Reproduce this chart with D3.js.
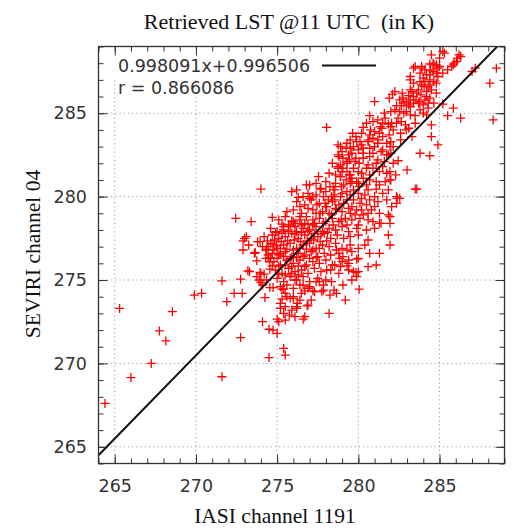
<!DOCTYPE html>
<html>
<head>
<meta charset="utf-8">
<script src="https://cdn.jsdelivr.net/npm/d3@7"></script>
<style>
  html, body { margin: 0; padding: 0; background: #fff; }
  svg { display: block; }
</style>
</head>
<body>
<svg id="chart" width="514" height="531"></svg>
<script>
// [IASI channel 1191, SEVIRI channel 04] in K
const outliers = [
    [272.9, 276.8], [273.6, 276.6], [273.75, 276.15], [274.3, 276.3], [273.3, 275.5], [274.0, 275.35],
    [273.75, 275.2], [273.9, 275.0], [271.6, 274.95], [272.75, 275.05], [274.1, 274.7], [269.9, 274.1],
    [270.35, 274.2], [272.35, 274.2], [272.85, 274.2], [271.9, 273.7], [274.25, 273.95], [265.3, 273.3],
    [268.55, 273.1], [274.1, 272.5], [274.5, 272.05], [267.75, 271.95], [268.15, 271.35], [272.75, 271.55],
    [274.5, 270.35], [267.25, 270.0], [266.0, 269.15], [271.6, 269.2], [264.4, 267.6], [274.0, 280.45],
    [272.45, 278.7], [273.4, 278.5], [274.7, 278.75], [275.9, 278.55], [276.4, 278.8], [273.0, 277.5],
]
const lowerBand = [
    [278.2, 273.0], [276.6, 272.65], [275.4, 273.0], [275.75, 272.9], [275.0, 272.65], [274.75, 272.0],
    [275.0, 271.8], [275.4, 270.9], [275.5, 270.5], [276.85, 273.45], [276.25, 273.6], [275.2, 273.3],
    [276.2, 273.3], [276.0, 273.9], [275.3, 273.85], [275.6, 274.0], [276.7, 274.35], [277.2, 274.35],
    [277.85, 274.4], [278.5, 274.4], [280.05, 274.45], [279.85, 275.45], [279.3, 275.85], [279.9, 276.25],
    [278.85, 276.3], [278.55, 275.9], [278.05, 275.6], [277.6, 274.9], [273.1, 277.6], [272.9, 277.35],
    [273.25, 277.1], [273.8, 277.3], [273.95, 277.3], [273.65, 276.65], [274.45, 277.0], [274.45, 276.5],
    [274.55, 276.1], [274.95, 277.05], [275.2, 276.6], [273.2, 275.55], [273.95, 275.45], [274.2, 275.35],
    [274.55, 275.65], [274.35, 275.0], [274.0, 274.85], [274.55, 274.55], [274.75, 274.55], [275.3, 274.45],
    [275.4, 274.45], [274.3, 276.8], [274.45, 276.3], [274.75, 277.15], [275.2, 273.6], [275.5, 273.4],
    [275.8, 273.9], [275.9, 273.2], [276.2, 273.4], [276.4, 273.8], [276.9, 273.5], [277.1, 273.8],
    [277.3, 274.3], [277.75, 274.3], [278.25, 274.1], [278.65, 274.2], [279.2, 273.8], [276.7, 272.8],
    [276.1, 272.8], [275.5, 272.6], [275.1, 272.5], [276.1, 275.0], [276.6, 274.7], [277.0, 274.6],
    [277.4, 274.9], [277.85, 274.7], [278.35, 274.9], [279.05, 274.7], [279.6, 275.0], [279.4, 275.6],
    [279.7, 275.5], [279.4, 276.2], [280.0, 276.3], [278.9, 275.8], [278.65, 276.8], [279.3, 276.8],
]
const rightBand = [
    [283.6, 280.45], [283.0, 281.6], [282.45, 282.15], [282.0, 281.0], [281.75, 281.4], [282.55, 279.9],
    [282.35, 279.6], [281.95, 278.8], [281.85, 277.7], [281.95, 277.1], [281.3, 278.4], [281.3, 276.6],
    [280.7, 276.6], [280.4, 277.1], [281.1, 275.9], [280.6, 275.8], [280.0, 275.5], [279.9, 275.2],
    [279.05, 276.4], [279.4, 276.0], [283.5, 280.45], [282.4, 279.9],
]
const middleBand = [
    [278.05, 284.15], [279.65, 283.8], [279.85, 283.6], [279.5, 283.4], [279.9, 283.3], [279.7, 283.0],
    [280.0, 282.8], [278.9, 283.0], [279.25, 282.9], [279.6, 282.6], [278.75, 282.5], [279.05, 282.3],
    [279.45, 282.2], [279.85, 282.3], [280.05, 282.0], [280.3, 282.3], [280.7, 282.4], [281.2, 282.2],
    [281.75, 282.5], [282.15, 282.0], [280.5, 281.7], [280.9, 281.7], [281.5, 281.8], [281.95, 281.5],
    [282.3, 281.3], [279.7, 281.7], [280.0, 281.5], [278.75, 281.7], [279.3, 281.5], [278.9, 281.2],
    [279.25, 281.0], [279.6, 281.1], [279.9, 280.9], [280.3, 281.1], [280.7, 281.0], [281.1, 280.9],
    [281.65, 280.9], [281.95, 281.0], [277.7, 280.5], [277.55, 281.2], [276.8, 280.7], [276.2, 280.4],
    [275.9, 280.3], [276.3, 279.95], [277.0, 279.9], [278.25, 280.6], [278.55, 280.4], [278.95, 280.6],
    [279.3, 280.3], [279.7, 280.4], [280.05, 280.6], [280.6, 280.4], [281.1, 280.45], [281.5, 280.2],
    [281.85, 280.4], [277.85, 280.0], [278.15, 279.8], [278.55, 279.8], [278.9, 280.0], [279.3, 279.8],
    [279.7, 279.8], [280.2, 279.9], [280.7, 279.8], [281.2, 279.7], [281.75, 279.8], [282.05, 279.4],
    [282.35, 280.0], [275.4, 278.2], [276.1, 278.2], [277.2, 279.2], [277.65, 279.0], [278.05, 279.4],
    [278.35, 278.9], [278.65, 279.2], [278.95, 278.6], [279.5, 279.0], [279.9, 279.2], [280.3, 278.9],
    [280.8, 279.2], [281.3, 279.0], [281.85, 278.9], [280.9, 278.5], [281.4, 278.4], [281.95, 278.4],
    [276.7, 278.4], [277.2, 278.3], [277.85, 278.4], [278.45, 278.3], [279.3, 278.3], [280.0, 278.3],
    [278.75, 283.1], [278.8, 282.4], [278.75, 281.8], [279.5, 282.9], [279.3, 282.1], [279.05, 281.7],
    [279.45, 281.3], [278.9, 281.2], [279.6, 280.9], [277.0, 280.7], [277.65, 280.45], [278.45, 280.6],
    [278.35, 280.0], [277.2, 280.0], [276.6, 280.0], [276.4, 279.4], [277.45, 279.5], [277.95, 279.6],
]
const upperCluster = [
    [284.5, 288.5], [285.3, 288.6], [286.2, 288.5], [286.3, 288.4], [286.05, 288.1], [285.9, 288.0],
    [285.75, 287.8], [285.5, 287.6], [285.2, 287.4], [285.0, 287.8], [284.9, 287.7], [284.65, 287.9],
    [284.4, 287.95], [284.45, 287.6], [284.8, 287.4], [284.9, 287.2], [284.1, 287.6], [283.9, 287.7],
    [283.4, 287.7], [284.2, 287.3], [284.0, 287.1], [284.1, 286.9], [284.4, 287.0], [284.65, 286.9],
    [284.8, 286.8], [283.9, 286.7], [283.2, 287.2], [283.2, 287.0], [284.05, 286.6], [284.3, 286.6],
    [284.5, 286.4], [284.8, 286.2], [284.2, 286.3], [283.7, 286.4], [283.85, 286.1], [283.2, 286.4],
    [283.1, 286.05], [283.4, 286.0], [283.55, 285.8], [283.75, 285.7], [284.1, 285.8], [284.4, 285.9],
    [284.65, 285.6], [282.25, 286.3], [282.1, 286.15], [281.9, 285.9], [281.0, 285.7], [282.55, 285.8],
    [282.75, 285.9], [282.95, 285.7], [283.2, 285.8], [282.35, 285.45], [282.65, 285.45], [283.1, 285.5],
    [283.4, 285.6], [283.7, 285.6], [282.25, 285.2], [282.55, 285.1], [282.95, 285.1], [283.2, 284.9],
    [283.5, 284.85], [284.3, 285.3], [284.2, 284.9], [285.2, 285.55], [285.85, 285.3], [285.5, 284.85],
    [286.3, 284.7], [287.0, 287.5], [287.2, 287.7], [288.5, 287.7], [288.1, 286.8], [288.3, 284.6],
    [280.7, 284.85], [281.2, 284.6], [281.65, 284.7], [281.85, 284.35], [281.35, 284.2], [280.5, 284.4],
    [280.3, 284.15], [280.75, 284.0], [281.0, 283.9], [281.45, 284.1], [282.05, 284.4], [282.35, 284.4],
    [282.65, 284.5], [282.15, 284.0], [282.45, 284.7], [282.95, 284.0], [280.6, 283.4], [280.9, 283.5],
    [281.2, 283.4], [281.5, 283.6], [281.75, 283.2], [281.95, 283.0], [282.15, 283.0], [280.1, 283.3],
    [280.3, 282.9], [280.7, 282.9], [281.0, 283.0], [281.5, 282.8], [281.85, 282.5], [284.5, 284.3],
    [284.5, 283.6], [284.9, 283.1], [283.8, 282.6], [284.4, 282.45], [283.1, 284.1], [285.2, 288.7],
    [285.0, 288.3], [284.6, 288.0], [284.8, 287.9], [283.5, 287.8], [283.9, 287.8], [286.1, 288.3],
    [285.85, 287.9],
]
// the solid red core, row by row
const denseCore = [
    [276.2, 279.7], [276.7, 279.5], [277.1, 279.8], [277.6, 279.6], [278.0, 279.4], [278.4, 279.7],
    [278.8, 279.5], [279.1, 279.6], [279.6, 279.4], [280.1, 279.6], [280.5, 279.5], [281.0, 279.4],
    [275.6, 279.1], [276.0, 279.2], [276.5, 279.0], [276.9, 279.3], [277.4, 279.0], [277.8, 279.1],
    [278.2, 279.0], [278.6, 279.3], [279.0, 279.1], [279.4, 279.3], [279.8, 278.9], [280.2, 279.2],
    [280.6, 279.0], [275.1, 278.6], [275.5, 278.8], [276.0, 278.5], [276.4, 278.6], [276.8, 278.8],
    [277.2, 278.6], [277.6, 278.7], [278.0, 278.5], [278.4, 278.7], [278.8, 278.5], [279.2, 278.7],
    [279.6, 278.6], [280.1, 278.7], [280.6, 278.6], [274.6, 278.1], [275.0, 277.9], [275.4, 278.0],
    [275.8, 278.2], [276.2, 277.9], [276.6, 278.1], [277.0, 278.0], [277.4, 278.2], [277.8, 277.9],
    [278.2, 278.1], [278.6, 278.0], [279.0, 278.2], [279.4, 277.9], [279.9, 278.1], [280.5, 278.0],
    [281.0, 278.1], [274.2, 277.6], [274.7, 277.7], [275.1, 277.5], [275.5, 277.6], [275.9, 277.8],
    [276.3, 277.5], [276.7, 277.7], [277.1, 277.5], [277.5, 277.6], [277.9, 277.8], [278.3, 277.5],
    [278.7, 277.7], [279.1, 277.5], [279.5, 277.6], [280.0, 277.7], [280.6, 277.4], [274.1, 277.0],
    [274.6, 277.2], [275.0, 276.9], [275.4, 277.1], [275.8, 277.2], [276.2, 276.9], [276.6, 277.1],
    [277.0, 277.2], [277.4, 276.9], [277.8, 277.1], [278.2, 277.0], [278.6, 277.2], [279.0, 276.9],
    [279.5, 277.1], [280.0, 276.9], [274.7, 276.6], [275.1, 276.5], [275.5, 276.7], [275.9, 276.4],
    [276.3, 276.6], [276.7, 276.5], [277.1, 276.7], [277.5, 276.4], [277.9, 276.6], [278.3, 276.5],
    [278.8, 276.6], [279.6, 276.7], [274.8, 276.1], [275.2, 275.9], [275.6, 276.2], [276.0, 276.0],
    [276.4, 276.2], [276.8, 275.9], [277.2, 276.1], [277.6, 276.0], [278.0, 276.2], [278.4, 275.9],
    [279.0, 276.1], [274.9, 275.6], [275.3, 275.4], [275.7, 275.7], [276.1, 275.5], [276.5, 275.6],
    [276.9, 275.4], [277.3, 275.7], [277.7, 275.5], [278.3, 275.6], [278.8, 275.4], [275.0, 275.1],
    [275.4, 274.9], [275.8, 275.2], [276.2, 275.0], [276.6, 275.2], [277.0, 274.9], [277.5, 275.1],
    [278.0, 275.0], [275.2, 274.6], [275.6, 274.7], [276.0, 274.5], [276.4, 274.7], [276.9, 274.5],
    [275.5, 274.2], [276.0, 274.0], [276.5, 274.2],
    [274.9, 277.85], [275.3, 277.8], [275.7, 277.9], [276.1, 277.75], [276.5, 277.85], [276.9, 277.9],
    [277.3, 277.8], [277.7, 277.75], [278.1, 277.85], [274.4, 277.35], [274.85, 277.4], [275.25, 277.3],
    [275.65, 277.35], [276.05, 277.4], [276.45, 277.3], [276.85, 277.35], [277.25, 277.4], [277.65, 277.3],
    [278.05, 277.35], [274.35, 276.85], [274.8, 276.8], [275.2, 276.9], [275.6, 276.85], [276.0, 276.8],
    [276.4, 276.9], [276.8, 276.85], [277.2, 276.8], [277.6, 276.9], [274.6, 276.35], [275.0, 276.3],
    [275.4, 276.4], [275.8, 276.3], [276.2, 276.35], [276.6, 276.4], [277.0, 276.3], [277.4, 276.35],
    [274.7, 275.85], [275.1, 275.8], [275.5, 275.9], [275.9, 275.8], [276.3, 275.85], [276.7, 275.8],
    [275.1, 275.35], [275.5, 275.3], [275.9, 275.4], [276.3, 275.3], [275.3, 278.35], [275.7, 278.3],
    [276.1, 278.4], [276.5, 278.3], [276.9, 278.35], [277.3, 278.4],
]
const upperBand = [
    [276.9, 280.2], [277.4, 280.1], [278.0, 280.3], [278.5, 280.1], [279.0, 280.2], [279.5, 280.1],
    [280.0, 280.2], [280.4, 280.1], [281.0, 280.0], [277.4, 280.8], [278.0, 280.9], [278.6, 280.8],
    [279.1, 280.7], [279.5, 280.8], [280.0, 280.8], [280.5, 280.7], [281.3, 280.7], [278.2, 281.4],
    [278.6, 281.3], [279.0, 281.5], [279.5, 281.3], [280.2, 281.4], [280.7, 281.3], [281.3, 281.5],
    [278.4, 282.0], [278.9, 281.9], [279.3, 282.0], [279.8, 282.1], [280.6, 281.9], [281.1, 282.0],
    [281.6, 282.1], [279.0, 282.7], [279.4, 282.5], [280.3, 282.6], [280.9, 282.6], [281.4, 282.7],
    [282.0, 282.6], [279.3, 283.2], [280.2, 283.1], [280.6, 283.3], [281.2, 283.2], [282.0, 283.3],
    [282.6, 283.4], [280.2, 283.8], [280.7, 283.7], [281.3, 283.8], [281.9, 283.7], [282.6, 283.8],
    [283.3, 283.6], [280.9, 284.5], [281.5, 284.4], [282.0, 284.2], [282.9, 284.3], [283.5, 284.4],
    [281.6, 285.0], [282.0, 285.1], [282.8, 285.0], [283.8, 285.2], [284.0, 285.0], [282.8, 285.6],
    [283.2, 285.4], [284.0, 285.5], [284.3, 285.6], [282.7, 286.2], [283.3, 286.3], [283.6, 286.2],
    [284.2, 286.0], [283.4, 286.8], [283.8, 286.9], [284.4, 286.7], [283.8, 287.4], [284.4, 287.3],
    [284.6, 287.5],
]

const fitSlope = 0.998091
const fitIntercept = 0.996506
const fitR = 0.866086
const majorTicks = [265, 270, 275, 280, 285]

const points = [].concat(outliers, lowerBand, rightBand, middleBand, upperCluster, denseCore, upperBand)

const svg = d3.select('#chart')
const x = d3.scaleLinear().domain([264, 289]).range([98.5, 504.5])
const y = d3.scaleLinear().domain([264, 289]).range([463.5, 46.5])
const [x0, x1] = x.range()
const [y0, y1] = y.range()

const tickFont = 'DejaVu Sans, Verdana, sans-serif'
const serif = 'Liberation Serif, Times New Roman, serif'

svg.append('defs').append('clipPath').attr('id', 'plot-clip')
    .append('rect')
    .attr('x', x0).attr('y', y1)
    .attr('width', x1 - x0).attr('height', y0 - y1)

// dotted grid at the major ticks
const grid = svg.append('g').attr('stroke', '#9a9a9a').attr('stroke-width', 1).attr('stroke-dasharray', '1.2,3')
grid.selectAll('.gx').data(majorTicks).join('line')
    .attr('x1', d => x(d)).attr('x2', d => x(d))
    .attr('y1', y0).attr('y2', y1)
grid.selectAll('.gy').data(majorTicks).join('line')
    .attr('x1', x0).attr('x2', x1)
    .attr('y1', d => y(d)).attr('y2', d => y(d))

// opaque key box over the first legend row
svg.append('rect')
    .attr('x', x0 + 1).attr('y', y1 + 1)
    .attr('width', 290).attr('height', 30)
    .attr('fill', '#fff')

function styleAxis(g) {
    g.select('.domain').remove()
    g.selectAll('line').attr('stroke', '#333').attr('stroke-width', 1)
    g.selectAll('text')
        .attr('font-family', tickFont)
        .attr('font-size', 17.5)
        .attr('fill', '#333')
}

svg.append('g').attr('transform', `translate(0,${y0})`)
    .call(d3.axisBottom(x).tickValues(majorTicks).tickSize(-9).tickPadding(16))
    .call(styleAxis)
svg.append('g').attr('transform', `translate(0,${y0})`)
    .call(d3.axisBottom(x).ticks(25).tickSize(-5).tickFormat(''))
    .call(styleAxis)
svg.append('g').attr('transform', `translate(0,${y1})`)
    .call(d3.axisTop(x).tickValues(majorTicks).tickSize(-9).tickFormat(''))
    .call(styleAxis)
svg.append('g').attr('transform', `translate(0,${y1})`)
    .call(d3.axisTop(x).ticks(25).tickSize(-5).tickFormat(''))
    .call(styleAxis)
svg.append('g').attr('transform', `translate(${x0},0)`)
    .call(d3.axisLeft(y).tickValues(majorTicks).tickSize(-9).tickPadding(11.5))
    .call(styleAxis)
svg.append('g').attr('transform', `translate(${x0},0)`)
    .call(d3.axisLeft(y).ticks(25).tickSize(-5).tickFormat(''))
    .call(styleAxis)
svg.append('g').attr('transform', `translate(${x1},0)`)
    .call(d3.axisRight(y).tickValues(majorTicks).tickSize(-9).tickFormat(''))
    .call(styleAxis)
svg.append('g').attr('transform', `translate(${x1},0)`)
    .call(d3.axisRight(y).ticks(25).tickSize(-5).tickFormat(''))
    .call(styleAxis)

// scatter, red plus signs
const plot = svg.append('g').attr('clip-path', 'url(#plot-clip)')
plot.append('g')
    .attr('stroke', '#ff0000')
    .attr('stroke-width', 1.3)
    .selectAll('path')
    .data(points)
    .join('path')
    .attr('transform', d => `translate(${x(d[0])},${y(d[1])})`)
    .attr('d', 'M-4.5,0H4.5M0,-4.5V4.5')

// regression line
const fitLine = d3.line()
    .x(d => x(d))
    .y(d => y(fitSlope * d + fitIntercept))
plot.append('path')
    .datum(x.domain())
    .attr('d', fitLine)
    .attr('fill', 'none')
    .attr('stroke', '#111')
    .attr('stroke-width', 2)

// frame
svg.append('rect')
    .attr('x', x0).attr('y', y1)
    .attr('width', x1 - x0).attr('height', y0 - y1)
    .attr('fill', 'none')
    .attr('stroke', '#333')
    .attr('stroke-width', 1.3)

// key
const key = svg.append('g')
    .attr('font-family', tickFont)
    .attr('font-size', 17.5)
    .attr('fill', '#333')
key.append('text').attr('x', 118).attr('y', 72)
    .text(`${fitSlope}x+${fitIntercept}`)
key.append('line')
    .attr('x1', 322).attr('x2', 376)
    .attr('y1', 65.5).attr('y2', 65.5)
    .attr('stroke', '#111').attr('stroke-width', 2)
key.append('text').attr('x', 118).attr('y', 94)
    .text(`r = ${fitR}`)

// titles
svg.append('text')
    .attr('x', 289).attr('y', 29)
    .attr('text-anchor', 'middle')
    .attr('font-family', serif)
    .attr('font-size', 22)
    .attr('fill', '#111')
    .style('white-space', 'pre')
    .text('Retrieved LST @11 UTC  (in K)')

svg.append('text')
    .attr('x', 275).attr('y', 523)
    .attr('text-anchor', 'middle')
    .attr('font-family', serif)
    .attr('font-size', 21.5)
    .attr('fill', '#111')
    .text('IASI channel 1191')

svg.append('text')
    .attr('transform', 'translate(40,254) rotate(-90)')
    .attr('text-anchor', 'middle')
    .attr('font-family', serif)
    .attr('font-size', 21.5)
    .attr('fill', '#111')
    .text('SEVIRI channel 04')
</script>
</body>
</html>
